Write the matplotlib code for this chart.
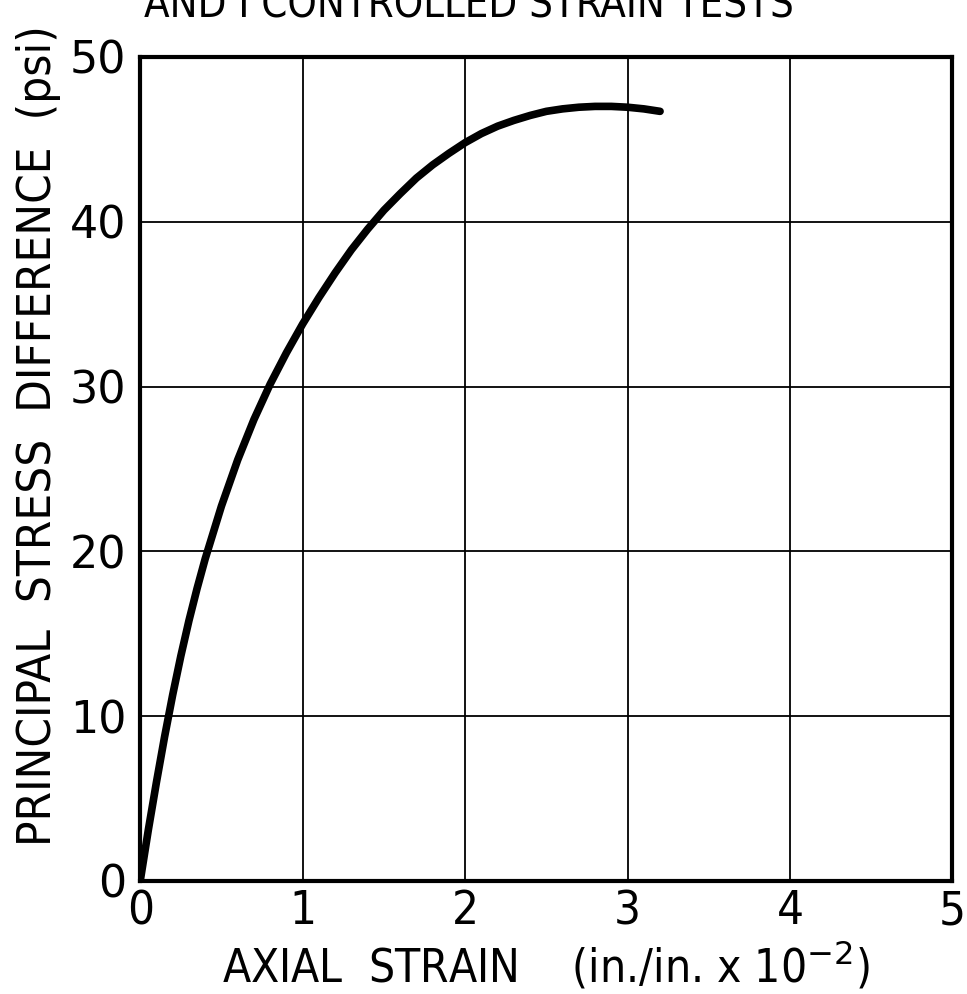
import numpy as np
import matplotlib
matplotlib.use("Agg")
import matplotlib.pyplot as plt

# stress-strain curve
strain = [0, 0.05, 0.1, 0.15, 0.2, 0.25, 0.3, 0.35, 0.4, 0.5, 0.6, 0.7,
          0.8, 0.9, 1.0, 1.1, 1.2, 1.3, 1.4, 1.5, 1.6, 1.7, 1.8, 1.9,
          2.0, 2.1, 2.2, 2.3, 2.4, 2.5, 2.6, 2.7, 2.8, 2.9, 3.0, 3.1, 3.2]
stress = [0, 3.1, 6.0, 8.75, 11.3, 13.65, 15.8, 17.75, 19.55, 22.75, 25.55, 28.0,
          30.15, 32.05, 33.8, 35.4, 36.9, 38.3, 39.55, 40.7, 41.7, 42.65, 43.45, 44.15,
          44.8, 45.35, 45.8, 46.15, 46.45, 46.7, 46.85, 46.95, 47.0, 47.0, 46.95, 46.85, 46.7]

xticks = [0, 1, 2, 3, 4, 5]
yticks = [0, 10, 20, 30, 40, 50]

narrow = dict(family="DejaVu Sans", stretch="condensed")

fig = plt.figure(figsize=(9.67, 9.94), dpi=100)
ax = fig.add_axes([0.145, 0.1137, 0.84, 0.829])

ax.plot(strain, stress, color="black", lw=5.5, solid_capstyle="round",
        solid_joinstyle="round")

ax.set_xlim(0, 5)
ax.set_ylim(0, 50)
ax.set_xticks(xticks)
ax.set_yticks(yticks)
ax.set_xticklabels([str(t) for t in xticks], fontsize=34, **narrow)
ax.set_yticklabels([str(t) for t in yticks], fontsize=32)
ax.tick_params(axis="x", length=0, pad=6)
ax.tick_params(axis="y", length=0, pad=10)
ax.grid(True, color="black", lw=1.3)
for sp in ax.spines.values():
    sp.set_linewidth(3)

ax.set_xlabel(r"AXIAL  STRAIN    (in./in. x 10$^{-2}$)", fontsize=33,
              labelpad=4, **narrow)
ax.set_ylabel("PRINCIPAL  STRESS  DIFFERENCE  (psi)", fontsize=34, **narrow)
ax.yaxis.set_label_coords(-0.097, 0.54)

# heading runs off the top of the sheet
fig.text(0.485, 0.982, "AND I CONTROLLED STRAIN TESTS", fontsize=30,
         ha="center", va="baseline", **narrow)

fig.savefig("out.png", dpi=100)
